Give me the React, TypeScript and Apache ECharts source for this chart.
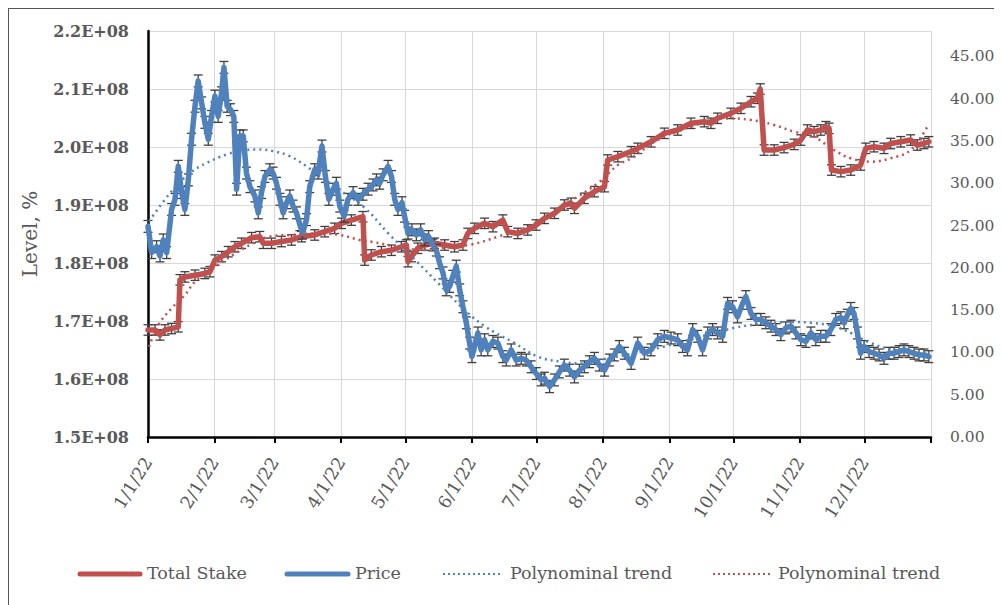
import React, { useEffect, useRef } from 'react';
import * as echarts from 'echarts';

// ---- axis data ----
const monthStarts = [0, 31, 59, 90, 120, 151, 181, 212, 243, 273, 304, 334];
const axisEnd = 365;
const tickLabels = ['1/1/22', '2/1/22', '3/1/22', '4/1/22', '5/1/22', '6/1/22', '7/1/22', '8/1/22', '9/1/22', '10/1/22', '11/1/22', '12/1/22'];

// ---- Total Stake (left axis) : day of year, value ----
const stakeDays = [0, 3.3, 5.6, 7.9, 11, 14.1, 14.9, 17.2, 21.9, 26.5, 28.9, 31.2, 34.3, 37.4, 40.5, 43.6, 48.3, 52.1, 53.7, 57.6, 62.2, 66.9, 71.6, 77.7, 82.4, 87, 90.2, 94.8, 100.2, 101, 104.1, 108.8, 113.5, 118.1, 120.4, 121.2, 122.8, 125.8, 129, 133.6, 138.3, 142.9, 146.8, 149.1, 152.2, 156.9, 160.8, 165.4, 167.7, 172.4, 177, 180.9, 184.8, 189.5, 194.1, 197.2, 198.8, 203.4, 208.1, 212.8, 214.3, 219, 225.2, 228.3, 234.5, 240.7, 246.9, 253.1, 259.3, 262.4, 265.5, 271.7, 276.4, 281.1, 284.1, 285.4, 287.2, 291.9, 296.5, 301.2, 304.3, 307.4, 310.5, 313.6, 316, 317.5, 318.6, 323, 327.6, 332.2, 334.6, 338.4, 343.1, 346.2, 350.9, 355.5, 358.6, 361.7, 364];
const stakeValues = [1.6845e8, 1.6845e8, 1.676e8, 1.6845e8, 1.687e8, 1.69e8, 1.771e8, 1.776e8, 1.779e8, 1.782e8, 1.785e8, 1.805e8, 1.811e8, 1.8195e8, 1.828e8, 1.834e8, 1.8437e8, 1.8454e8, 1.834e8, 1.834e8, 1.837e8, 1.8397e8, 1.8454e8, 1.8483e8, 1.854e8, 1.8598e8, 1.8684e8, 1.874e8, 1.8798e8, 1.805e8, 1.8138e8, 1.8195e8, 1.822e8, 1.828e8, 1.831e8, 1.8023e8, 1.811e8, 1.8254e8, 1.831e8, 1.834e8, 1.831e8, 1.828e8, 1.831e8, 1.851e8, 1.8598e8, 1.8684e8, 1.8626e8, 1.874e8, 1.854e8, 1.851e8, 1.857e8, 1.8655e8, 1.877e8, 1.8857e8, 1.9e8, 1.903e8, 1.8943e8, 1.9115e8, 1.923e8, 1.9316e8, 1.9776e8, 1.9833e8, 1.9919e8, 1.9977e8, 2.009e8, 2.0236e8, 2.0293e8, 2.0409e8, 2.0437e8, 2.0409e8, 2.0495e8, 2.058e8, 2.0667e8, 2.0781e8, 2.084e8, 2.1e8, 1.9948e8, 1.9948e8, 1.999e8, 2.0045e8, 2.012e8, 2.0293e8, 2.0264e8, 2.0293e8, 2.035e8, 2.0322e8, 1.9603e8, 1.9575e8, 1.9603e8, 1.969e8, 1.9977e8, 2.0005e8, 1.9977e8, 2.006e8, 2.009e8, 2.012e8, 2.0034e8, 2.006e8, 2.009e8];

// ---- Price (right axis) : day of year, value ----
const priceDays = [0, 1.7, 4, 5.6, 7.1, 8.7, 11, 12.6, 14.1, 15.7, 17.2, 18.8, 20.3, 21.9, 23.4, 25, 26.5, 28.1, 29.6, 31.2, 32.7, 34.3, 35.4, 36.9, 38.5, 40, 41.3, 42.8, 44.4, 45.9, 47.5, 49.8, 51.4, 52.9, 54.5, 56.8, 58.3, 59.9, 61.5, 63, 64.6, 66.1, 67.6, 69.2, 70.8, 72, 73.9, 75.4, 77.7, 79.3, 81.1, 82.7, 84.3, 86.3, 87.8, 89.4, 91.4, 93.2, 95.6, 97.9, 100.2, 102.6, 104.9, 106.5, 108, 109.6, 111.9, 113.5, 115, 116.5, 118.4, 119.6, 121.2, 123, 125.1, 127.1, 129, 130.8, 132.8, 134.4, 135.9, 137.5, 139, 140.6, 142.1, 143.7, 145.3, 146.8, 148.4, 149.9, 151, 153.8, 155.3, 156.9, 158.4, 160.8, 163.1, 165.4, 167, 169.3, 171.6, 174, 176.3, 178.6, 181, 183.3, 184.8, 187.2, 189.5, 191.8, 194.1, 196.5, 198.8, 201.1, 203.4, 205.8, 208.1, 210.4, 212.8, 215.1, 217.4, 219.7, 222.1, 225.2, 228.3, 231.4, 234.5, 237.6, 240.7, 243.8, 246.9, 249.2, 251.5, 253.9, 256.2, 258.5, 260.9, 263.2, 265.5, 267.9, 270.2, 272.5, 274.8, 277.2, 278.7, 281.1, 283.4, 285.7, 288, 290.4, 292.7, 295, 297.3, 299.7, 302, 304.3, 306.7, 309, 311.3, 313.6, 316, 318.3, 320.6, 323, 324.5, 326, 327.6, 329.1, 330.7, 332.2, 333.8, 336.1, 338.4, 340.8, 343.1, 345.4, 347.8, 350.1, 352.4, 354.7, 357.1, 359.4, 361.7, 364];
const priceValues = [24.9, 21.8, 22.5, 21.4, 23.3, 21.8, 26.9, 28.1, 32.0, 28.9, 26.9, 30.4, 35.2, 39.1, 42.1, 39.5, 37.2, 35.2, 37.9, 40.3, 37.9, 40.7, 43.7, 39.1, 38.7, 37.9, 29.3, 35.6, 35.6, 31.2, 29.6, 28.5, 26.5, 28.9, 30.8, 31.6, 31.2, 30.0, 28.1, 26.5, 27.7, 28.5, 27.3, 26.5, 25.1, 24.1, 25.7, 29.6, 31.6, 31.2, 34.4, 30.8, 28.1, 29.3, 30.0, 27.3, 26.1, 28.1, 28.9, 28.1, 28.7, 29.3, 29.8, 30.4, 30.0, 31.0, 32.0, 30.8, 28.1, 26.9, 27.7, 26.1, 24.1, 24.5, 23.9, 24.5, 23.3, 23.7, 22.7, 22.1, 20.6, 19.4, 17.4, 17.8, 19.0, 20.2, 17.4, 15.4, 13.5, 11.1, 9.5, 12.3, 10.3, 11.5, 10.3, 11.3, 11.1, 9.5, 9.1, 10.3, 9.1, 9.3, 9.1, 8.3, 7.5, 6.75, 6.95, 5.95, 6.75, 7.7, 8.5, 7.9, 7.1, 7.9, 8.3, 8.9, 9.3, 8.5, 7.9, 9.1, 9.7, 10.7, 9.9, 8.7, 11.1, 9.9, 10.3, 11.5, 11.9, 11.7, 11.5, 10.7, 10.3, 12.7, 11.9, 10.3, 12.3, 12.7, 12.3, 11.9, 15.8, 15.4, 14.2, 15.8, 16.6, 14.6, 13.9, 13.9, 13.5, 13.1, 12.7, 12.1, 12.9, 13.1, 12.3, 11.5, 11.3, 12.3, 11.5, 11.9, 11.9, 12.7, 13.9, 14.1, 13.5, 14.4, 15.2, 14.6, 12.3, 9.9, 10.7, 10.1, 9.9, 9.7, 9.3, 9.9, 9.9, 10.1, 10.3, 10.1, 9.9, 9.7, 9.7, 9.5];

// ---- Polynomial trends ----
const priceTrendDays = [0.5, 11.8, 19.6, 27.3, 36.6, 42.8, 50.6, 58.3, 66.1, 73.9, 80.1, 88.6, 101, 111.9, 124.3, 135.2, 146, 156.9, 170.9, 181.7, 192.6, 201.9, 214.3, 226.7, 240.7, 260.9, 273.3, 284.1, 299.7, 309, 319.8, 327.6, 336.9, 347.8, 364];
const priceTrendValues = [25.5, 29.3, 31.2, 32.4, 33.4, 33.8, 34.0, 33.8, 33.2, 32.0, 30.8, 29.3, 27.1, 24.1, 21.0, 18.2, 15.4, 13.1, 11.1, 9.5, 8.9, 8.7, 9.3, 9.9, 10.7, 12.1, 12.9, 13.3, 13.6, 13.5, 13.1, 12.3, 11.1, 10.3, 9.8];
const stakeTrendDays = [0.5, 4.8, 11, 17.2, 21.9, 30, 40, 48, 56.8, 66.1, 78.5, 89.4, 98.7, 104.1, 111.9, 119.6, 127.4, 135.2, 150.7, 163.1, 178.6, 194.1, 209.6, 219, 225.2, 237.6, 253.1, 268.6, 281.1, 291.9, 301.2, 309, 319.8, 327.6, 336.9, 346.2, 355.5, 364];
const stakeTrendValues = [1.6557e8, 1.693e8, 1.7219e8, 1.7448e8, 1.7678e8, 1.79e8, 1.815e8, 1.832e8, 1.8454e8, 1.8483e8, 1.851e8, 1.8483e8, 1.8397e8, 1.8368e8, 1.831e8, 1.8254e8, 1.8224e8, 1.8254e8, 1.832e8, 1.8454e8, 1.8655e8, 1.9e8, 1.9374e8, 1.969e8, 1.9805e8, 2.0121e8, 2.035e8, 2.0495e8, 2.0466e8, 2.038e8, 2.0264e8, 2.0207e8, 1.9948e8, 1.9805e8, 1.9747e8, 1.9805e8, 1.9948e8, 2.04e8];

const stakeError = 9e5;
const priceError = 0.7;

const RED = '#C0504D';
const BLUE = '#4F81BD';
const TXT = '#595959';
const FONT = 'DejaVu Serif';

const pairs = (xs: number[], ys: number[]) => xs.map((x, i) => [x, ys[i]]);

function errorBars(err: number) {
  return (params: any, api: any) => {
    const x = api.value(0);
    const y = api.value(1);
    const hi = api.coord([x, y + err]);
    const lo = api.coord([x, y - err]);
    const hw = 4.5;
    const style = { stroke: '#404040', lineWidth: 1.3 };
    return {
      type: 'group',
      children: [
        { type: 'line', shape: { x1: hi[0], y1: hi[1], x2: lo[0], y2: lo[1] }, style },
        { type: 'line', shape: { x1: hi[0] - hw, y1: hi[1], x2: hi[0] + hw, y2: hi[1] }, style },
        { type: 'line', shape: { x1: lo[0] - hw, y1: lo[1], x2: lo[0] + hw, y2: lo[1] }, style },
      ],
    };
  };
}

export default function App() {
  const ref = useRef<HTMLDivElement>(null);
  useEffect(() => {
    if (!ref.current) return;
    const prevOverflow = document.documentElement.style.overflow;
    document.documentElement.style.overflow = 'hidden';
    const chart = echarts.init(ref.current, undefined, { renderer: 'svg' });
    const legendY = 565;
    const legendText = (x: number, text: string) => ({
      type: 'text', left: x, top: legendY - 10,
      style: { text, fill: TXT, font: `17.5px "${FONT}"` },
    });
    chart.setOption({
      animation: false,
      grid: { left: 139, top: 22, width: 783, height: 406, containLabel: false, outerBoundsMode: 'none' },
      xAxis: {
        type: 'value', min: 0, max: axisEnd,
        axisLine: { show: true, lineStyle: { color: '#000', width: 2.5 } },
        axisTick: { show: true, length: 6, lineStyle: { color: '#000', width: 2 }, customValues: [...monthStarts, axisEnd] },
        axisLabel: {
          customValues: monthStarts,
          rotate: 58, margin: 22,
          color: TXT, fontFamily: FONT, fontSize: 17.5,
          formatter: (v: number) => tickLabels[monthStarts.indexOf(v)] ?? '',
        },
        splitLine: { show: true, lineStyle: { color: '#d9d9d9', width: 1 } },
      },
      yAxis: [
        {
          type: 'value', min: 1.5e8, max: 2.2e8, interval: 1e7,
          name: 'Level, %', nameLocation: 'middle', nameGap: 108,
          nameTextStyle: { color: TXT, fontFamily: FONT, fontSize: 20 },
          axisLine: { show: true, lineStyle: { color: '#000', width: 2.5 } },
          axisTick: { show: false },
          axisLabel: {
            color: TXT, fontFamily: FONT, fontSize: 16, fontWeight: 'bold', margin: 19,
            formatter: (v: number) => (v / 1e8).toFixed(1) + 'E+08',
          },
          splitLine: { show: true, lineStyle: { color: '#d9d9d9', width: 1 } },
        },
        {
          type: 'value', min: 0, max: 48, interval: 5, position: 'right',
          axisLine: { show: false }, axisTick: { show: false }, splitLine: { show: false },
          axisLabel: {
            color: TXT, fontFamily: FONT, fontSize: 15.5, margin: 19, showMaxLabel: false,
            formatter: (v: number) => (Math.abs(v % 5) < 1e-9 ? v.toFixed(2) : ''),
          },
        },
      ],
      series: [
        {
          type: 'custom', name: 'stakeErr', xAxisIndex: 0, yAxisIndex: 0, z: 2,
          renderItem: errorBars(stakeError), encode: { x: 0, y: 1 },
          data: pairs(stakeDays, stakeValues),
        },
        {
          type: 'line', name: 'Total Stake', yAxisIndex: 0, z: 3, showSymbol: false, symbol: 'none',
          lineStyle: { color: RED, width: 5.5, cap: 'round', join: 'round' },
          data: pairs(stakeDays, stakeValues),
        },
        {
          type: 'custom', name: 'priceErr', xAxisIndex: 0, yAxisIndex: 1, z: 4,
          renderItem: errorBars(priceError), encode: { x: 0, y: 1 },
          data: pairs(priceDays, priceValues),
        },
        {
          type: 'line', name: 'Price', yAxisIndex: 1, z: 5, showSymbol: false, symbol: 'none',
          lineStyle: { color: BLUE, width: 5.5, cap: 'round', join: 'round' },
          data: pairs(priceDays, priceValues),
        },
        {
          type: 'line', name: 'Price trend', yAxisIndex: 1, z: 6, showSymbol: false, symbol: 'none', smooth: 0.4,
          lineStyle: { color: BLUE, width: 2.5, type: [2, 4] },
          data: pairs(priceTrendDays, priceTrendValues),
        },
        {
          type: 'line', name: 'Stake trend', yAxisIndex: 0, z: 6, showSymbol: false, symbol: 'none', smooth: 0.4,
          lineStyle: { color: RED, width: 2.5, type: [2, 4] },
          data: pairs(stakeTrendDays, stakeTrendValues),
        },
      ],
      graphic: [
        { type: 'line', shape: { x1: 71, y1: legendY, x2: 131, y2: legendY }, style: { stroke: RED, lineWidth: 5, lineCap: 'round' } },
        legendText(138, 'Total Stake'),
        { type: 'line', shape: { x1: 278, y1: legendY, x2: 339, y2: legendY }, style: { stroke: BLUE, lineWidth: 5, lineCap: 'round' } },
        legendText(346, 'Price'),
        { type: 'line', shape: { x1: 434, y1: legendY, x2: 494, y2: legendY }, style: { stroke: BLUE, lineWidth: 2, lineDash: [2, 3] } },
        legendText(501, 'Polynominal trend'),
        { type: 'line', shape: { x1: 704, y1: legendY, x2: 764, y2: legendY }, style: { stroke: RED, lineWidth: 2, lineDash: [2, 3] } },
        legendText(769, 'Polynominal trend'),
      ],
    });
    return () => {
      chart.dispose();
      document.documentElement.style.overflow = prevOverflow;
    };
  }, []);
  return (
    <div style={{ width: 993, height: 596, borderTop: '1px solid #555', borderLeft: '1px solid #555' }}>
      <div ref={ref} style={{ width: 993, height: 596 }} />
    </div>
  );
}
